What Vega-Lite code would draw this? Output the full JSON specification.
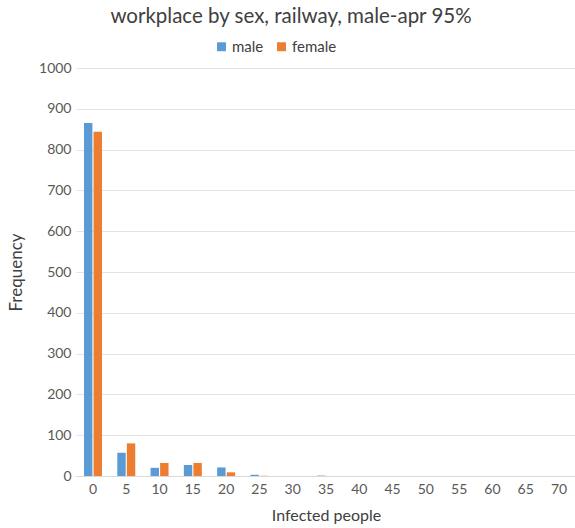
{
  "$schema": "https://vega.github.io/schema/vega-lite/v6.json",
  "width": 500,
  "height": 408,
  "autosize": {"type": "none"},
  "padding": {"left": 76, "top": 68, "right": 0, "bottom": 52},
  "background": "white",
  "title": {
    "text": "workplace by sex, railway, male-apr 95%",
    "fontSize": 20.5,
    "font": "Lato",
    "fontWeight": "normal",
    "color": "#404040",
    "anchor": "middle",
    "dx": -35,
    "offset": 12
  },
  "data": {
    "values": [
      {"x": "0", "sex": "male", "v": 865}, {"x": "0", "sex": "female", "v": 844},
      {"x": "5", "sex": "male", "v": 57}, {"x": "5", "sex": "female", "v": 80},
      {"x": "10", "sex": "male", "v": 20}, {"x": "10", "sex": "female", "v": 32},
      {"x": "15", "sex": "male", "v": 27}, {"x": "15", "sex": "female", "v": 32},
      {"x": "20", "sex": "male", "v": 21}, {"x": "20", "sex": "female", "v": 9},
      {"x": "25", "sex": "male", "v": 3}, {"x": "25", "sex": "female", "v": 0.5},
      {"x": "30", "sex": "male", "v": 0}, {"x": "30", "sex": "female", "v": 0},
      {"x": "35", "sex": "male", "v": 1}, {"x": "35", "sex": "female", "v": 0},
      {"x": "40", "sex": "male", "v": 0}, {"x": "40", "sex": "female", "v": 0},
      {"x": "45", "sex": "male", "v": 0}, {"x": "45", "sex": "female", "v": 0},
      {"x": "50", "sex": "male", "v": 0}, {"x": "50", "sex": "female", "v": 0},
      {"x": "55", "sex": "male", "v": 0}, {"x": "55", "sex": "female", "v": 0},
      {"x": "60", "sex": "male", "v": 0}, {"x": "60", "sex": "female", "v": 0},
      {"x": "65", "sex": "male", "v": 0}, {"x": "65", "sex": "female", "v": 0},
      {"x": "70", "sex": "male", "v": 0}, {"x": "70", "sex": "female", "v": 0}
    ]
  },
  "mark": {"type": "bar"},
  "encoding": {
    "x": {
      "field": "x",
      "type": "ordinal",
      "sort": null,
      "scale": {"paddingInner": 0.46, "paddingOuter": 0.24},
      "axis": {
        "title": "Infected people",
        "titleFont": "Lato",
        "titleFontSize": 16,
        "titleFontWeight": "normal",
        "titleColor": "#404040",
        "titlePadding": 11,
        "labelAngle": 0,
        "labelFont": "Lato",
        "labelFontSize": 14,
        "labelColor": "#595959",
        "labelPadding": 6,
        "labelOverlap": false,
        "ticks": false,
        "domainColor": "#D9D9D9",
        "grid": false
      }
    },
    "xOffset": {"field": "sex", "type": "nominal", "sort": ["male", "female"], "scale": {"paddingInner": 0.12}},
    "y": {
      "field": "v",
      "type": "quantitative",
      "scale": {"domain": [0, 1000]},
      "axis": {
        "title": "Frequency",
        "titleFont": "Lato",
        "titleFontSize": 17,
        "titleFontWeight": "normal",
        "titleColor": "#404040",
        "titlePadding": 13,
        "values": [0, 100, 200, 300, 400, 500, 600, 700, 800, 900, 1000],
        "format": "d",
        "labelOverlap": false,
        "labelFont": "Lato",
        "labelFontSize": 14,
        "labelColor": "#595959",
        "labelPadding": 5,
        "ticks": false,
        "domain": false,
        "gridColor": "#E3E3E3"
      }
    },
    "color": {
      "field": "sex",
      "type": "nominal",
      "sort": ["male", "female"],
      "scale": {"domain": ["male", "female"], "range": ["#5B9BD5", "#ED7D31"]},
      "legend": {
        "title": null,
        "orient": "none",
        "direction": "horizontal",
        "legendX": 138,
        "legendY": -29,
        "symbolType": "square",
        "symbolSize": 80,
        "symbolStrokeWidth": 0,
        "labelFont": "Lato",
        "labelFontSize": 15,
        "labelColor": "#404040",
        "columnPadding": 10,
        "labelOffset": 3
      }
    }
  },
  "config": {"view": {"stroke": null}}
}
